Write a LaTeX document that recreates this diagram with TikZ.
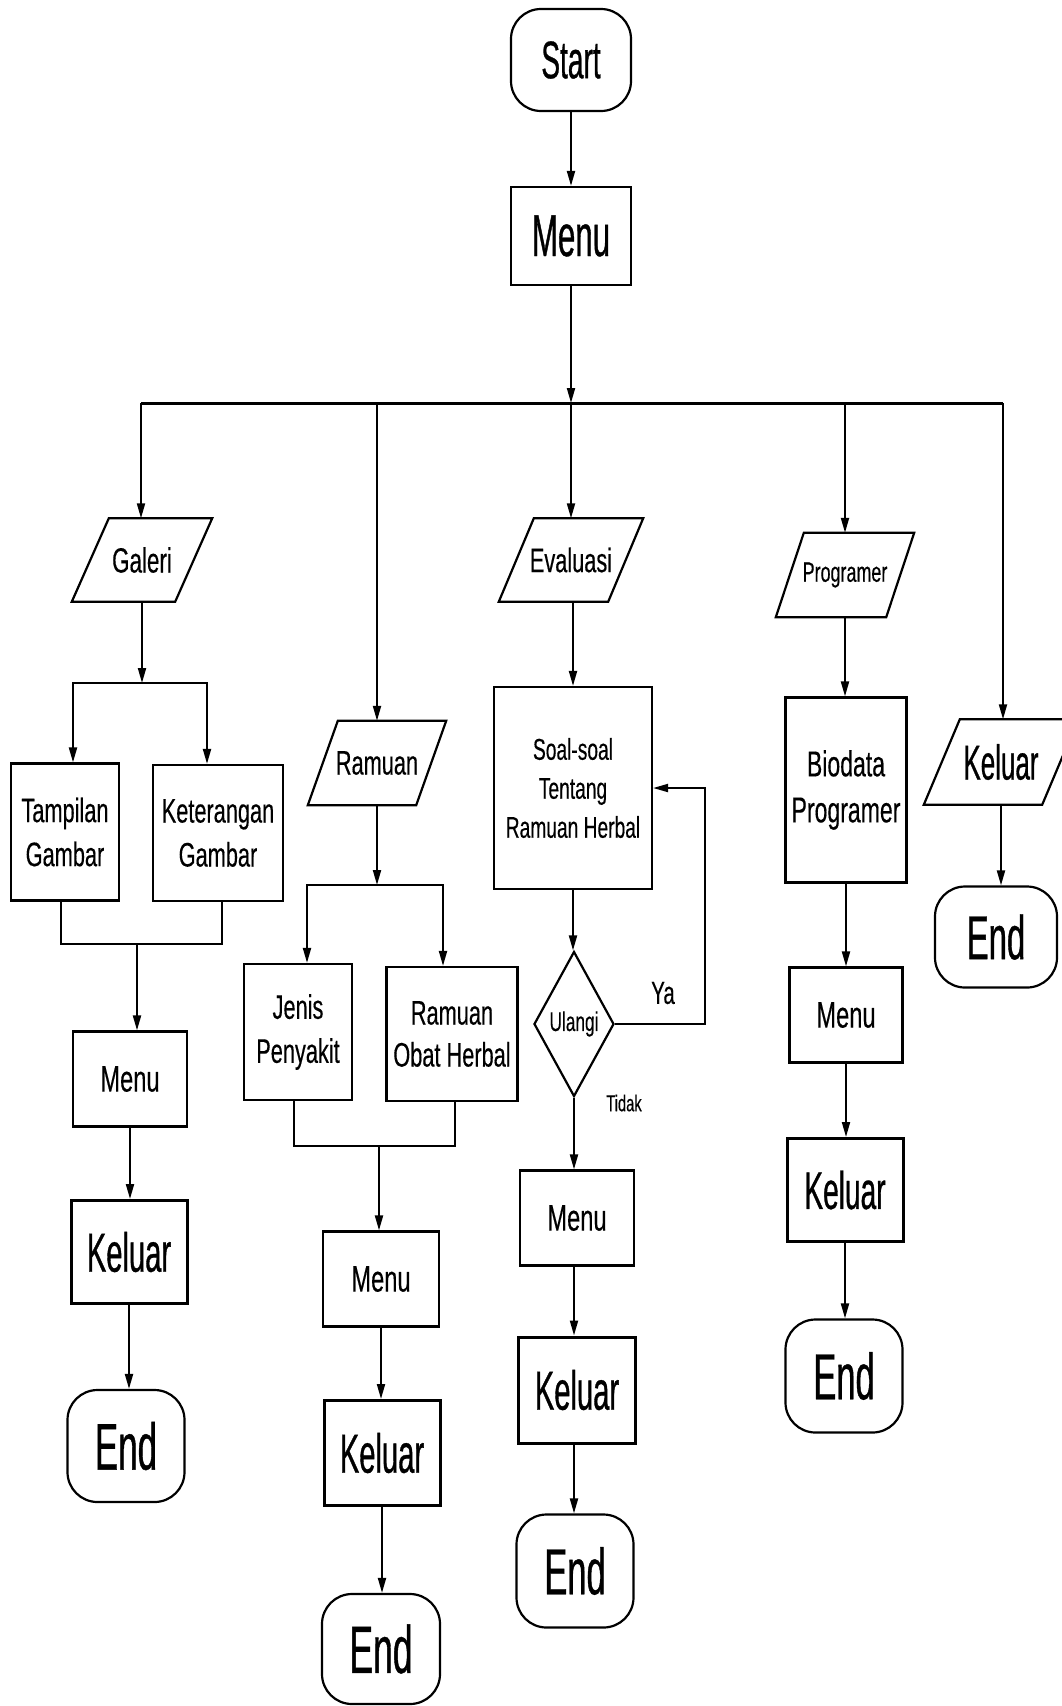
\documentclass[tikz,border=0pt]{standalone}
\usepackage{fontspec}
\setmainfont[FakeStretch=0.64,FakeBold=0.3]{Liberation Sans}
\newfontfamily\tallfont[FakeStretch=0.53,FakeBold=0.6]{Liberation Sans}
\usetikzlibrary{arrows.meta,shapes.geometric}

\begin{document}
\begin{tikzpicture}[x=1pt,y=-1pt,
	box/.style={draw,line width=2.2pt,inner sep=0pt,align=center},
	kbox/.style={box,line width=3pt},
	term/.style={box,rounded corners=30pt},
	io/.style={inner sep=0pt,align=center,
		append after command={\pgfextra{\draw[line width=2.2pt]
			([xshift=-#1pt]\tikzlastnode.south west) -- ([xshift=-#1pt]\tikzlastnode.south east)
			-- ([xshift=#1pt]\tikzlastnode.north east) -- ([xshift=#1pt]\tikzlastnode.north west) -- cycle;}}},
	io/.default=17,
	fs/.style 2 args={font=\fontsize{#1}{#2}\selectfont},
	tall/.style={font=\tallfont\fontsize{#1}{#1}\selectfont},
	line/.style={line width=2pt},
	arr/.style={line,-{Triangle[length=15pt,width=8pt]}}]
	\useasboundingbox (0,0) rectangle (1062,1706);
	
	% start and main menu
	\node[term,tall=53,minimum width=120,minimum height=102] (start) at (571,60) {Start};
	\node[box,tall=59,minimum width=120,minimum height=98] (menu) at (571,236) {Menu};
	\coordinate (bus) at (571,403);
	\coordinate (busL) at (141,403);
	\coordinate (busR) at (1003,403);
	\draw[arr] (start) -- (menu);
	\draw[arr] (menu) -- (bus);
	\draw[line width=3pt] (busL) -- (busR);
	
	% galeri
	\node[io=18.5,fs={35}{35},minimum width=103,minimum height=83] (galeri) at (142,560) {Galeri};
	\node[box,fs={34}{44},minimum width=108,minimum height=137] (tampil) at (65,832) {Tampilan\\Gambar};
	\node[box,fs={34}{44},minimum width=130,minimum height=136] (ket) at (218,833) {Keterangan\\Gambar};
	\node[box,fs={37}{37},minimum width=114,minimum height=95] (menuG) at (130,1079) {Menu};
	\node[kbox,tall=55,minimum width=116,minimum height=103] (keluarG) at (129,1252) {Keluar};
	\node[term,tall=66,minimum width=117,minimum height=112] (endG) at (126,1446) {End};
	\coordinate (gsplit) at (142,683);
	\coordinate (gjoin) at (137,944);
	\draw[arr] (busL) -- (busL |- galeri.north);
	\draw[arr] (galeri) -- (gsplit);
	\draw[arr] (gsplit) -| ([xshift=8pt]tampil.north);
	\draw[arr] (gsplit) -| ([xshift=-11pt]ket.north);
	\draw[line] ([xshift=-4pt]tampil.south) |- (gjoin) -| ([xshift=4pt]ket.south);
	\draw[arr] (gjoin) -- (gjoin |- menuG.north);
	\draw[arr] (menuG.south) -- (menuG.south |- keluarG.north);
	\draw[arr] (keluarG.south) -- (keluarG.south |- endG.north);
	
	% ramuan
	\node[io=15,fs={34}{34},minimum width=108,minimum height=84] (ramuan) at (377,763) {Ramuan};
	\node[box,fs={34}{44},minimum width=108,minimum height=136] (jenis) at (298,1032) {Jenis\\Penyakit};
	\node[box,fs={34}{42},minimum width=131,minimum height=134] (obat) at (452,1034) {Ramuan\\Obat Herbal};
	\node[box,fs={37}{37},minimum width=116,minimum height=95] (menuR) at (381,1279) {Menu};
	\node[kbox,tall=55,minimum width=116,minimum height=105] (keluarR) at (382,1453) {Keluar};
	\node[term,tall=67,minimum width=118,minimum height=110] (endR) at (381,1649) {End};
	\coordinate (rsplit) at (377,885);
	\coordinate (rjoin) at (379,1146);
	\draw[arr] (bus -| ramuan.north) -- (ramuan.north);
	\draw[arr] (ramuan) -- (rsplit);
	\draw[arr] (rsplit) -| ([xshift=9pt]jenis.north);
	\draw[arr] (rsplit) -| ([xshift=-9pt]obat.north);
	\draw[line] ([xshift=-4pt]jenis.south) |- (rjoin) -| ([xshift=3pt]obat.south);
	\draw[arr] (rjoin) -- (rjoin |- menuR.north);
	\draw[arr] (menuR.south) -- (menuR.south |- keluarR.north);
	\draw[arr] (keluarR.south) -- (keluarR.south |- endR.north);
	
	% evaluasi
	\node[io=17.5,fs={34}{34},minimum width=109,minimum height=83] (eval) at (571,560) {Evaluasi};
	\node[box,fs={30}{39},minimum width=158,minimum height=202] (soal) at (573,788) {Soal-soal\\Tentang\\Ramuan Herbal};
	\node[box,diamond,fs={27}{27},minimum width=80,minimum height=145] (ulangi) at (574,1024) {Ulangi};
	\node[box,fs={37}{37},minimum width=114,minimum height=95] (menuE) at (577,1218) {Menu};
	\node[kbox,tall=55,minimum width=117,minimum height=106] (keluarE) at (577,1390) {Keluar};
	\node[term,tall=65,minimum width=117,minimum height=113] (endE) at (575,1571) {End};
	\node[fs={32}{32}] (ya) at (663,993) {Ya};
	\node[fs={23}{23}] (tidak) at (624,1103) {Tidak};
	\draw[arr] (bus) -- (eval.north);
	\draw[arr] (eval.south -| soal.north) -- (soal.north);
	\draw[arr] (soal.south) -- (soal.south |- ulangi.north);
	\draw[arr] (ulangi.east) -- ++(90,0) |- (soal.east);
	\draw[arr] (ulangi.south) -- (ulangi.south |- menuE.north);
	\draw[arr] (menuE.south -| ulangi.south) -- (ulangi.south |- keluarE.north);
	\draw[arr] (keluarE.south -| ulangi.south) -- (ulangi.south |- endE.north);
	
	% programer
	\node[io=14,fs={28}{28},minimum width=110,minimum height=84] (prog) at (845,575) {Programer};
	\node[box,fs={36}{46},minimum width=121,minimum height=185] (bio) at (846,790) {Biodata\\Programer};
	\node[box,fs={37}{37},minimum width=113,minimum height=95] (menuP) at (846,1015) {Menu};
	\node[kbox,tall=53,minimum width=116,minimum height=103] (keluarP) at (845,1190) {Keluar};
	\node[term,tall=65,minimum width=117,minimum height=113] (endP) at (844,1376) {End};
	\draw[arr] (bus -| prog.north) -- (prog.north);
	\draw[arr] (prog.south) -- (prog.south |- bio.north);
	\draw[arr] (bio.south) -- (bio.south |- menuP.north);
	\draw[arr] (menuP.south) -- (menuP.south |- keluarP.north);
	\draw[arr] (keluarP.south) -- (keluarP.south |- endP.north);
	
	% keluar
	\node[io=18,tall=49,minimum width=118,minimum height=85] (keluar) at (1001,762) {Keluar};
	\node[term,tall=62,minimum width=122,minimum height=101] (endK) at (996,937) {End};
	\draw[arr] (busR) -- (busR |- keluar.north);
	\draw[arr] (keluar.south) -- (keluar.south |- endK.north);
\end{tikzpicture}
\end{document}
